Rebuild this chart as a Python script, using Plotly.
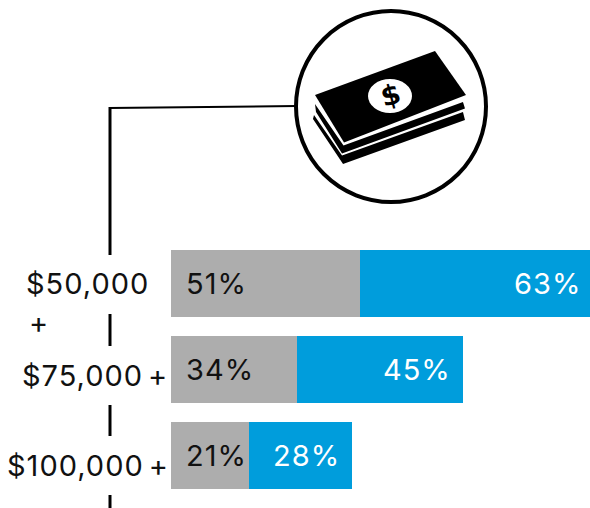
import plotly.graph_objects as go

W, H = 590, 508
income_labels = ["$50,000+", "$75,000+", "$100,000+"]
gray_values = [51, 34, 21]
blue_values = [63, 45, 28]

GRAY = "#adadad"
BLUE = "#009ddc"
FONT = "Inter"
SIZE = 29


def px(x):
    return x / W


def py(y):
    return 1 - y / H


def path(points):
    return "M " + " L ".join(f"{px(x):.4f} {py(y):.4f}" for x, y in points) + " Z"


def spaced(text, gap=1):
    return f'<span style="letter-spacing:{gap}px">{text}</span>'


def row_label(text):
    # Amount and plus sign sit a little further apart than the digits
    amount = text[:-1]
    return spaced(amount[:-1]) + spaced(amount[-1], 6) + "+"


fig = go.Figure()
fig.add_bar(y=income_labels, x=gray_values, orientation="h", marker_color=GRAY, marker_line_width=0)
fig.add_bar(y=income_labels, x=blue_values, orientation="h", marker_color=BLUE, marker_line_width=0)

shapes = []

# Stem from the icon down past the row labels, broken around the text
for y0, y1 in [(107, 255), (314, 346), (405, 436), (495, 508)]:
    shapes.append(dict(type="line", xref="paper", yref="paper", x0=px(110), x1=px(110),
                       y0=py(y0), y1=py(y1), line=dict(color="black", width=3)))
shapes.append(dict(type="line", xref="paper", yref="paper", x0=px(109), x1=px(297),
                   y0=py(108), y1=py(106), line=dict(color="black", width=2)))

# Round badge
shapes.append(dict(type="circle", xref="paper", yref="paper", x0=px(296), x1=px(486),
                   y0=py(11), y1=py(202), line=dict(color="black", width=4), fillcolor="white"))

# Stack of banknotes, bottom note first
notes = [
    [(314, 115), (342, 155.5), (463, 112), (465, 120), (343, 164), (313, 119)],
    [(315, 104), (343.5, 145.5), (463, 102), (465, 108.5), (342, 153.5), (316, 112)],
    [(315, 95), (435, 51), (466, 95), (344, 142.5)],
]
for pts in notes:
    shapes.append(dict(type="path", xref="paper", yref="paper", path=path(pts),
                       fillcolor="black", line=dict(color="black", width=0)))
shapes.append(dict(type="circle", xref="paper", yref="paper", x0=px(368), x1=px(412),
                   y0=py(79), y1=py(113), fillcolor="white", line_width=0))

annotations = [dict(text="$", xref="paper", yref="paper", x=px(390), y=py(95.5), xanchor="center",
                    yanchor="middle", showarrow=False, textangle=-15,
                    font=dict(family="DejaVu Sans", size=28, color="black", weight="bold"))]

# Row labels; the first one wraps onto a second line
label_spots = [(24, 283), (20, 375), (5, 465)]
for label, (x, y) in zip(income_labels, label_spots):
    if label == "$50,000+":
        annotations.append(dict(text=spaced(label[:-1]), xref="paper", yref="paper", x=px(x), y=py(y),
                                xanchor="left", yanchor="middle", showarrow=False,
                                font=dict(family=FONT, size=SIZE, color="#111111")))
        annotations.append(dict(text="+", xref="paper", yref="paper", x=px(38), y=py(y + 39),
                                xanchor="center", yanchor="middle", showarrow=False,
                                font=dict(family=FONT, size=SIZE, color="#111111")))
    else:
        annotations.append(dict(text=row_label(label), xref="paper", yref="paper", x=px(x), y=py(y),
                                xanchor="left", yanchor="middle", showarrow=False,
                                font=dict(family=FONT, size=SIZE, color="#111111")))

# Percent labels inside each bar segment
for label, g, b in zip(income_labels, gray_values, blue_values):
    annotations.append(dict(text=spaced(f"{g}%"), x=0, y=label, xref="x", yref="y", xanchor="left",
                            xshift=13, showarrow=False, yanchor="middle",
                            font=dict(family=FONT, size=SIZE, color="#111111")))
    end = g + b
    annotations.append(dict(text=spaced(f"{b}%"), x=min(end, 110.6), y=label, xref="x", yref="y",
                            xanchor="right", xshift=3 if end > 110.6 else -10,
                            showarrow=False, yanchor="middle",
                            font=dict(family=FONT, size=SIZE, color="white")))

fig.update_layout(
    width=W, height=H, margin=dict(l=0, r=0, t=0, b=0),
    paper_bgcolor="white", plot_bgcolor="white",
    barmode="stack", bargap=19 / 86, showlegend=False,
    shapes=shapes, annotations=annotations,
    xaxis=dict(domain=[171 / W, 1], range=[0, 113.3], visible=False),
    yaxis=dict(domain=[1 - 498.5 / H, 1 - 240.5 / H], autorange="reversed", visible=False),
)

fig.write_html("out.html", config=dict(displayModeBar=False))
